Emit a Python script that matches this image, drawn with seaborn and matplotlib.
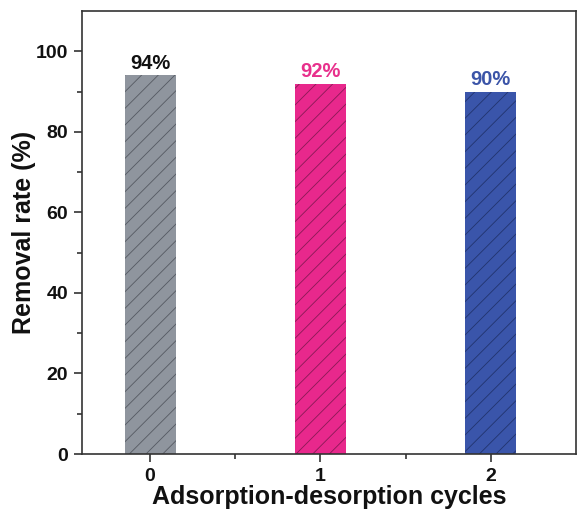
import matplotlib
matplotlib.use("Agg")
import matplotlib.pyplot as plt
import seaborn as sns
import pandas as pd
from matplotlib.ticker import FixedLocator

cycles = ["0", "1", "2"]
removal = [94, 92, 90]
labels = ["94%", "92%", "90%"]
bar_colors = ["#8f959e", "#e8288c", "#3a55aa"]
hatch_colors = ["#555a62", "#8a1a55", "#22346e"]
text_colors = ["#111111", "#e8308c", "#3c55a8"]

sns.set_theme(style="ticks")
plt.rcParams['font.family'] = ['Liberation Sans', 'DejaVu Sans']
plt.rcParams['hatch.linewidth'] = 0.6

df = pd.DataFrame({"cycle": cycles, "removal": removal})

fig = plt.figure(figsize=(5.77, 5.15), dpi=100)
ax = fig.add_axes([0.142, 0.1184, 0.856, 0.8602])

sns.barplot(data=df, x="cycle", y="removal", hue="cycle", palette=bar_colors,
            width=0.3, legend=False, ax=ax, saturation=1)

for cont, hc, tc, lab in zip(ax.containers, hatch_colors, text_colors, labels):
    for p in cont.patches:
        p.set_hatch("//")
        p.set_edgecolor(hc)
        p.set_linewidth(0)
    ax.bar_label(cont, labels=[lab], color=tc, fontsize=14.5, fontweight="bold", padding=2)

ax.set_xlim(-0.4, 2.5)
ax.set_ylim(0, 110)
ax.yaxis.set_major_locator(FixedLocator([0, 20, 40, 60, 80, 100]))
ax.yaxis.set_minor_locator(FixedLocator([10, 30, 50, 70, 90]))
ax.xaxis.set_minor_locator(FixedLocator([0.5, 1.5]))

ax.tick_params(axis="both", which="major", direction="out", length=6, width=1.2,
               color="#333333", labelsize=14, labelcolor="#111111", pad=4)
ax.tick_params(axis="both", which="minor", direction="out", length=3.5, width=1.2,
               color="#333333")
for lab in ax.get_xticklabels() + ax.get_yticklabels():
    lab.set_fontweight("bold")

for s in ax.spines.values():
    s.set_visible(True)
    s.set_linewidth(1.2)
    s.set_color("#333333")

ax.set_xlabel("Adsorption-desorption cycles", fontsize=18, fontweight="bold",
              color="#111111", labelpad=0)
ax.set_ylabel("Removal rate (%)", fontsize=18, fontweight="bold",
              color="#111111", labelpad=0)

fig.savefig("out.png", dpi=100)
